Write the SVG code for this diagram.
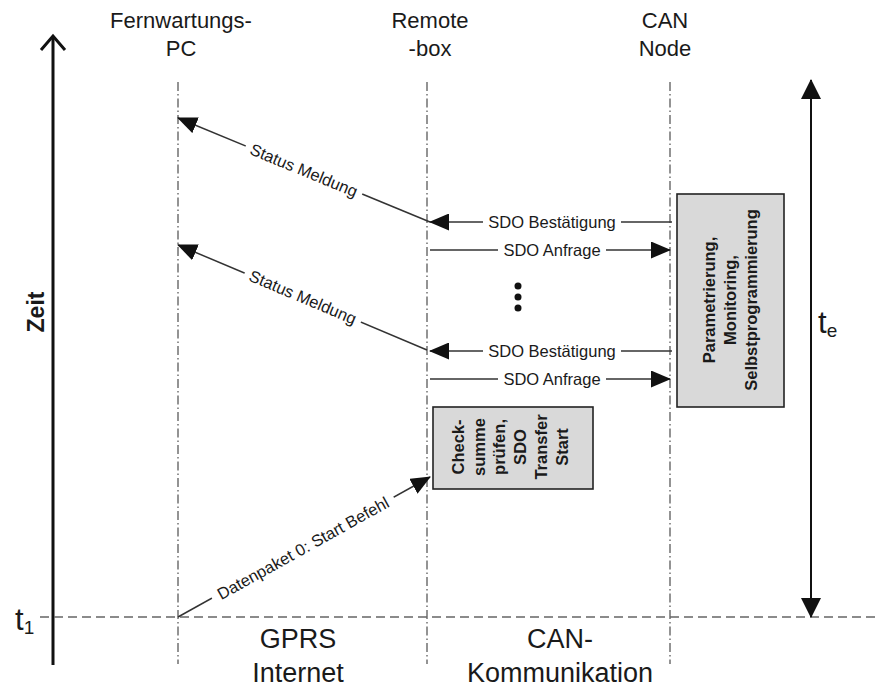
<svg xmlns="http://www.w3.org/2000/svg" width="878" height="689" viewBox="0 0 878 689">
  <style>
    text { font-family: "Liberation Sans", Arial, sans-serif; fill: #1a1a1a; }
    .head { font-size: 22px; text-anchor: middle; }
    .foot { font-size: 27px; text-anchor: middle; }
    .lbl { font-size: 16.5px; text-anchor: middle; }
    .box { fill: #d9d9d9; stroke: #222; stroke-width: 1.6; }
    .boxtxt { font-size: 16.5px; font-weight: bold; text-anchor: middle; }
    .life { stroke: #666; stroke-width: 1.4; stroke-dasharray: 9 3 1.5 3; fill: none; }
    .msg { stroke: #333; stroke-width: 1.5; fill: none; marker-end: url(#ah); }
    .gap { fill: #fff; }
  </style>
  <defs>
    <marker id="ah" viewBox="0 0 20 17" refX="19" refY="8.5" markerWidth="20" markerHeight="17" orient="auto" markerUnits="userSpaceOnUse">
      <path d="M0,0 L20,8.5 L0,17 Z" fill="#111"/>
    </marker>
    <marker id="ahBig" viewBox="0 0 20 20" refX="19" refY="10" markerWidth="20" markerHeight="20" orient="auto-start-reverse" markerUnits="userSpaceOnUse">
      <path d="M0,0 L20,10 L0,20 Z" fill="#111"/>
    </marker>
  </defs>

  <!-- time axis -->
  <g id="time-axis">
    <line x1="53" y1="37" x2="53" y2="665" stroke="#111" stroke-width="3"/>
    <polyline points="41,50 53,36 65,50" fill="none" stroke="#111" stroke-width="3"/>
    <text transform="translate(44,312) rotate(-90)" font-size="23" font-weight="bold" text-anchor="middle">Zeit</text>
  </g>

  <!-- start time marker -->
  <g id="t1">
    <line x1="40" y1="617" x2="878" y2="617" stroke="#666" stroke-width="1.4" stroke-dasharray="9 5"/>
    <text x="15" y="630" font-size="31">t<tspan font-size="19" dy="4">1</tspan></text>
  </g>

  <!-- lifelines -->
  <g id="fernwartungs-pc">
    <text class="head" x="181" y="28">Fernwartungs-</text>
    <text class="head" x="181" y="56">PC</text>
    <line class="life" x1="178" y1="82" x2="178" y2="664"/>
  </g>
  <g id="remote-box">
    <text class="head" x="430" y="28">Remote</text>
    <text class="head" x="430" y="56">-box</text>
    <line class="life" x1="427" y1="82" x2="427" y2="664"/>
  </g>
  <g id="can-node">
    <text class="head" x="665" y="28">CAN</text>
    <text class="head" x="665" y="56">Node</text>
    <line class="life" x1="670" y1="82" x2="670" y2="664"/>
  </g>

  <!-- processing boxes -->
  <g id="can-processing">
    <rect class="box" x="677" y="194" width="107" height="213"/>
    <text class="boxtxt" transform="translate(715,300) rotate(-90)">Parametrierung,</text>
    <text class="boxtxt" transform="translate(736,300) rotate(-90)">Monitoring,</text>
    <text class="boxtxt" transform="translate(757,300) rotate(-90)">Selbstprogrammierung</text>
  </g>
  <g id="remote-check">
    <rect class="box" x="433" y="407" width="160" height="82"/>
    <text class="boxtxt" transform="translate(464,447) rotate(-90)">Check-</text>
    <text class="boxtxt" transform="translate(485,447) rotate(-90)">summe</text>
    <text class="boxtxt" transform="translate(505,447) rotate(-90)">prüfen,</text>
    <text class="boxtxt" transform="translate(526,447) rotate(-90)">SDO</text>
    <text class="boxtxt" transform="translate(547,447) rotate(-90)">Transfer</text>
    <text class="boxtxt" transform="translate(568,447) rotate(-90)">Start</text>
  </g>

  <!-- message connectors -->
  <g id="connectors">
    <!-- status messages to the PC -->
    <line class="msg" x1="430" y1="222" x2="178" y2="118"/>
    <g transform="translate(304,170) rotate(22.4)">
      <rect class="gap" x="-63" y="-8" width="126" height="16"/>
      <text class="lbl" y="6">Status Meldung</text>
    </g>
    <line class="msg" x1="427" y1="350" x2="178" y2="245"/>
    <g transform="translate(303,297) rotate(22.9)">
      <rect class="gap" x="-63" y="-8" width="126" height="16"/>
      <text class="lbl" y="6">Status Meldung</text>
    </g>

    <!-- SDO exchange, first round -->
    <line class="msg" x1="672" y1="222" x2="430" y2="222"/>
    <rect class="gap" x="483" y="214" width="138" height="16"/>
    <text class="lbl" x="552" y="228">SDO Bestätigung</text>
    <line class="msg" x1="430" y1="250" x2="670" y2="250"/>
    <rect class="gap" x="498" y="242" width="108" height="16"/>
    <text class="lbl" x="552" y="256">SDO Anfrage</text>

    <!-- repetition -->
    <circle cx="518" cy="286" r="3.5" fill="#111"/>
    <circle cx="518" cy="297" r="3.5" fill="#111"/>
    <circle cx="518" cy="308" r="3.5" fill="#111"/>

    <!-- SDO exchange, last round -->
    <line class="msg" x1="672" y1="351" x2="430" y2="351"/>
    <rect class="gap" x="483" y="343" width="138" height="16"/>
    <text class="lbl" x="552" y="357">SDO Bestätigung</text>
    <line class="msg" x1="430" y1="379" x2="670" y2="379"/>
    <rect class="gap" x="498" y="371" width="108" height="16"/>
    <text class="lbl" x="552" y="385">SDO Anfrage</text>

    <!-- start command -->
    <line class="msg" x1="178" y1="617" x2="430" y2="477"/>
    <g transform="translate(303,548) rotate(-29.1)">
      <rect class="gap" x="-104" y="-8" width="208" height="16"/>
      <text class="lbl" y="6">Datenpaket 0: Start Befehl</text>
    </g>
  </g>

  <!-- duration arrow -->
  <g id="duration">
    <line x1="811" y1="80" x2="811" y2="617" stroke="#111" stroke-width="2" marker-start="url(#ahBig)" marker-end="url(#ahBig)"/>
    <text x="818" y="333" font-size="31">t<tspan font-size="19" dy="4">e</tspan></text>
  </g>

  <!-- network sections -->
  <g id="sections">
    <text class="foot" x="298" y="648">GPRS</text>
    <text class="foot" x="298" y="682">Internet</text>
    <text class="foot" x="560" y="648">CAN-</text>
    <text class="foot" x="560" y="682">Kommunikation</text>
  </g>
</svg>
